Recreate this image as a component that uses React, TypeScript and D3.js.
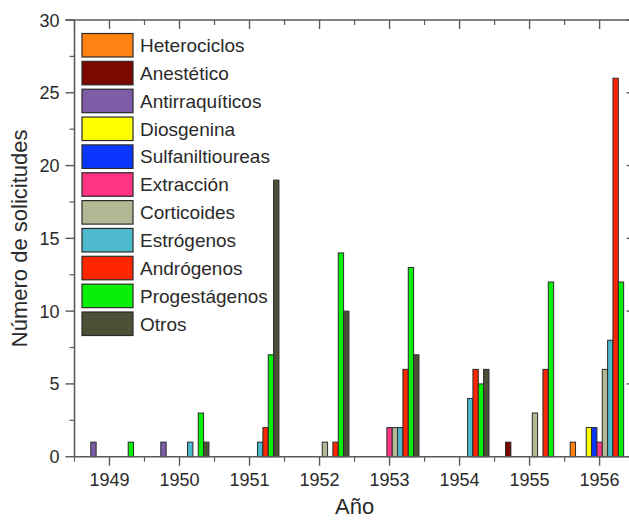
import React from "react";
import * as d3 from "d3";

const years = [1949, 1950, 1951, 1952, 1953, 1954, 1955, 1956];
const seriesNames = [
  "Heterociclos",
  "Anestético",
  "Antirraquíticos",
  "Diosgenina",
  "Sulfaniltioureas",
  "Extracción",
  "Corticoides",
  "Estrógenos",
  "Andrógenos",
  "Progestágenos",
  "Otros",
];
const seriesColors = [
  "#FF8212",
  "#7A0A00",
  "#7D5DA8",
  "#FFFF00",
  "#0A36FF",
  "#FF3483",
  "#B1B893",
  "#4DBACE",
  "#FF2600",
  "#08F008",
  "#4E4F37",
];
const heterociclos = [0, 0, 0, 0, 0, 0, 0, 1];
const anestetico = [0, 0, 0, 0, 0, 0, 1, 0];
const antirraquiticos = [1, 1, 0, 0, 0, 0, 0, 0];
const diosgenina = [0, 0, 0, 0, 0, 0, 0, 2];
const sulfaniltioureas = [0, 0, 0, 0, 0, 0, 0, 2];
const extraccion = [0, 0, 0, 0, 2, 0, 0, 1];
const corticoides = [0, 0, 0, 1, 2, 0, 3, 6];
const estrogenos = [0, 1, 1, 0, 2, 4, 0, 8];
const androgenos = [0, 0, 2, 1, 6, 6, 6, 26];
const progestagenos = [1, 3, 7, 14, 13, 5, 12, 12];
const otros = [0, 1, 19, 10, 7, 6, 0, 0];
const seriesValues = [
  heterociclos,
  anestetico,
  antirraquiticos,
  diosgenina,
  sulfaniltioureas,
  extraccion,
  corticoides,
  estrogenos,
  androgenos,
  progestagenos,
  otros,
];
const yTicks = [0, 5, 10, 15, 20, 25, 30];
const yMinorTicks = [2.5, 7.5, 12.5, 17.5, 22.5, 27.5];
const xMinorTicks = [1948.5, 1949.5, 1950.5, 1951.5, 1952.5, 1953.5, 1954.5, 1955.5, 1956.5];

const W = 629;
const H = 520;
const FONT = "Arial, 'Liberation Sans', sans-serif";
const AXIS = "#5a5a5a";
const TEXT = "#2a2a2a";

export default function App() {
  const x = d3.scaleLinear().domain([1948.5, 1956.5]).range([74.5, 634.6]);
  const y = d3.scaleLinear().domain([0, 30]).range([456.7, 20]);
  const band = d3.scaleBand<string>().domain(seriesNames).range([-0.42, 0.42]).paddingInner(0);
  const bw = x(1948.5 + band.bandwidth()) - x(1948.5);
  const x0 = x.range()[0];
  const x1 = x.range()[1];
  const y0 = y.range()[0];
  const y1 = y.range()[1];

  return (
    <svg
      width={W}
      height={H}
      style={{ position: "absolute", left: 0, top: 0, background: "#fff", display: "block" }}
      fontFamily={FONT}
    >
      {/* bars */}
      {seriesNames.map((s, si) =>
        years.map((yr, yi) => {
          const v = seriesValues[si][yi];
          if (!v) return null;
          const bx = x(yr + (band(s) as number));
          return (
            <rect
              key={s + yr}
              x={bx}
              y={y(v)}
              width={bw}
              height={y0 - y(v)}
              fill={seriesColors[si]}
              stroke="#2a2a2a"
              strokeWidth={1}
            />
          );
        })
      )}

      {/* axes lines */}
      <line x1={x0} x2={x0} y1={y1} y2={y0} stroke={AXIS} strokeWidth={1.6} />
      <line x1={x0 - 9} x2={x1} y1={y1} y2={y1} stroke={AXIS} strokeWidth={1.6} />
      <line x1={x0} x2={x1} y1={y0} y2={y0} stroke={AXIS} strokeWidth={1.6} />
      <line x1={x1} x2={x1} y1={y1} y2={y0} stroke={AXIS} strokeWidth={1.6} />

      {/* y ticks */}
      {yTicks.map((t) => (
        <g key={"yt" + t}>
          <line x1={x0 - 9} x2={x0} y1={y(t)} y2={y(t)} stroke={AXIS} strokeWidth={1.4} />
          <line x1={x1 - 8} x2={x1} y1={y(t)} y2={y(t)} stroke={AXIS} strokeWidth={1.4} />
          <text x={x0 - 15} y={y(t) + 6.5} textAnchor="end" fontSize={18} fill={TEXT}>
            {t}
          </text>
        </g>
      ))}
      {yMinorTicks.map((t) => (
        <g key={"ym" + t}>
          <line x1={x0 - 5} x2={x0} y1={y(t)} y2={y(t)} stroke={AXIS} strokeWidth={1.2} />
          <line x1={x1 - 5} x2={x1} y1={y(t)} y2={y(t)} stroke={AXIS} strokeWidth={1.2} />
        </g>
      ))}

      {/* x ticks */}
      {years.map((yr) => (
        <g key={"xt" + yr}>
          <line x1={x(yr)} x2={x(yr)} y1={y0} y2={y0 + 9} stroke={AXIS} strokeWidth={1.4} />
          <line x1={x(yr)} x2={x(yr)} y1={y1} y2={y1 + 9} stroke={AXIS} strokeWidth={1.4} />
          <text x={x(yr)} y={486} textAnchor="middle" fontSize={18} fill={TEXT}>
            {yr}
          </text>
        </g>
      ))}
      {xMinorTicks.map((t) => (
        <g key={"xm" + t}>
          <line x1={x(t)} x2={x(t)} y1={y0} y2={y0 + 5} stroke={AXIS} strokeWidth={1.2} />
          <line x1={x(t)} x2={x(t)} y1={y1} y2={y1 + 5} stroke={AXIS} strokeWidth={1.2} />
        </g>
      ))}

      {/* axis titles */}
      <text x={(x0 + x1) / 2} y={514} textAnchor="middle" fontSize={22} fill={TEXT}>
        Año
      </text>
      <text
        transform={`translate(27,${(y0 + y1) / 2}) rotate(-90)`}
        textAnchor="middle"
        fontSize={22}
        fill={TEXT}
      >
        Número de solicitudes
      </text>

      {/* legend */}
      {seriesNames.map((s, i) => {
        const top = 33.5 + i * 27.85;
        return (
          <g key={"lg" + s}>
            <rect
              x={82}
              y={top}
              width={51}
              height={23.5}
              fill={seriesColors[i]}
              stroke="#2a2a2a"
              strokeWidth={1.2}
            />
            <text x={140} y={top + 18.5} fontSize={19} fill={TEXT}>
              {s}
            </text>
          </g>
        );
      })}
    </svg>
  );
}
